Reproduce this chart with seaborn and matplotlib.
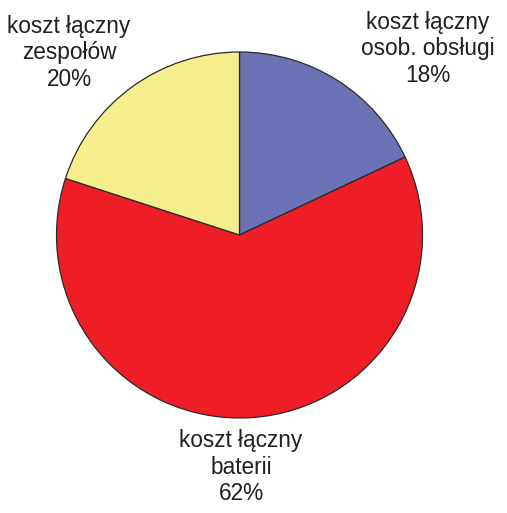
"""
Pie chart: cost shares (koszt łączny).
"""
import matplotlib
matplotlib.use("Agg")
import matplotlib.pyplot as plt
from matplotlib import font_manager as fm
import seaborn as sns

sns.set_theme(style="white")
plt.rcParams["font.family"] = ["Liberation Sans", "DejaVu Sans"]

# pick the regular (non-narrow) Liberation Sans file if there is one
reg = [f for f in fm.findSystemFonts() if f.endswith("LiberationSans-Regular.ttf")]
FONT = fm.FontProperties(fname=reg[0]) if reg else fm.FontProperties(family="Liberation Sans")
FONT.set_size(16.3)

# data
LABELS = ["koszt łączny\nosob. obsługi\n18%", "koszt łączny\nbaterii\n62%", "koszt łączny\nzespołów\n20%"]
SHARES = [18, 62, 20]
COLORS = ["#6B73B6", "#EE1D26", "#F4EE8C"]
LABEL_POS = [(428, 49), (241, 467), (69, 53)]  # pixel positions, y from top

W, H = 507, 513
fig = plt.figure(figsize=(W / 100, H / 100), dpi=100)
ax = fig.add_axes([0, 0, 1, 1])

ax.pie(SHARES, colors=COLORS, startangle=90, counterclock=False,
       center=(239.5, H - 235), radius=183, frame=True,
       wedgeprops={"edgecolor": "#2a2a2a", "linewidth": 0.9})
ax.set_xlim(0, W)
ax.set_ylim(0, H)
ax.axis("off")

for lab, (x, y) in zip(LABELS, LABEL_POS):
    ax.text(x, H - y, lab, ha="center", va="center", fontproperties=FONT,
            color="#231f20", linespacing=1.2, multialignment="center")

fig.savefig("out.png", dpi=100, facecolor="white")
plt.close(fig)
